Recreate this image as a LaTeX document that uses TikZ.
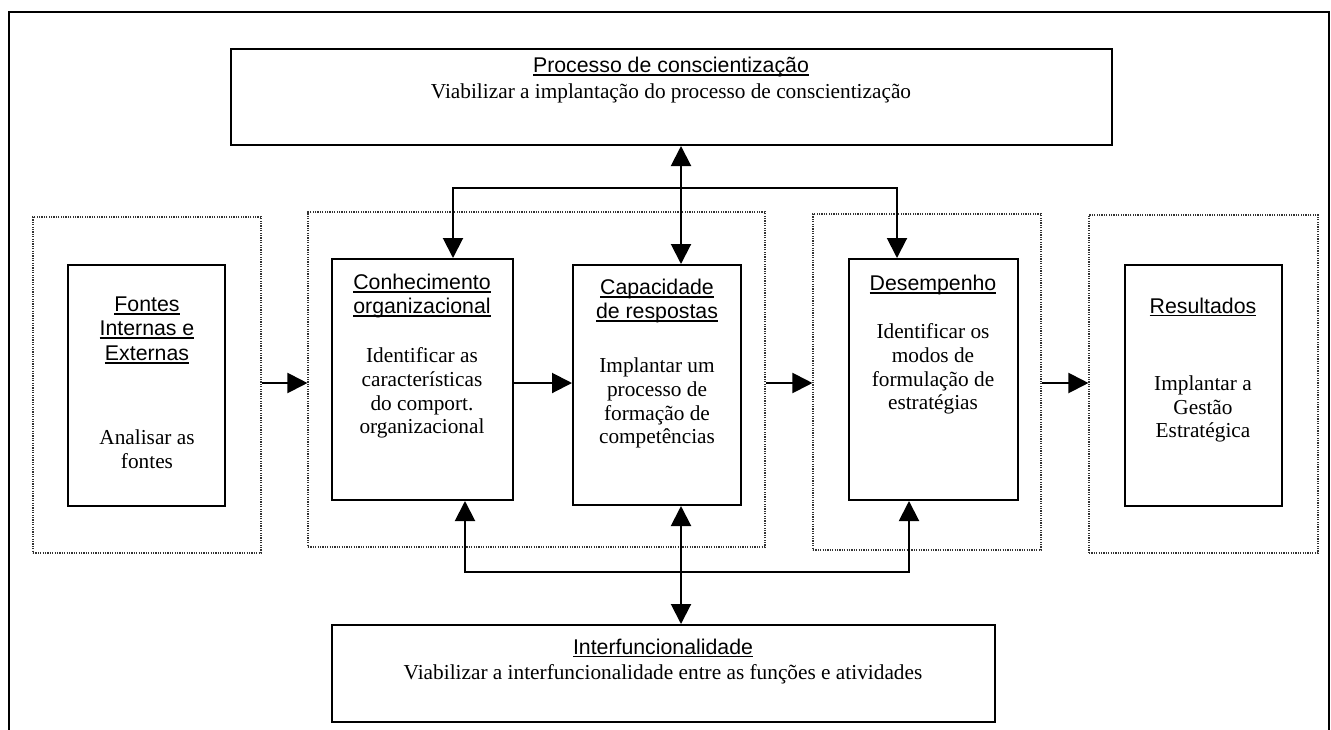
\documentclass[tikz,border=0pt]{standalone}
\usepackage{fontspec}
\setmainfont{Liberation Serif}
\newfontfamily\arialf{Liberation Sans}
\usetikzlibrary{arrows.meta}
\newcommand\ulx[1]{\setbox0\hbox{#1}\rlap{\vrule width\wd0 height -1.6pt depth 3.4pt}\box0}
\begin{document}
\begin{tikzpicture}[x=1pt,y=-1pt,
 solidbox/.style={draw,line width=2pt,inner sep=0pt},
 dotbox/.style={draw=black!80,line width=1.1pt,dash pattern=on 1.2pt off 1.2pt,inner sep=0pt},
 ttl/.style={font=\arialf\fontsize{21.3}{24.5}\selectfont,align=center,inner sep=0pt},
 txt/.style={font=\fontsize{21.3}{23.8}\selectfont,align=center,inner sep=0pt},
 conn/.style={line width=2pt},
 arr/.style={line width=2pt,-{Triangle[length=20pt,width=20pt]}},
 darr/.style={line width=2pt,{Triangle[length=20pt,width=20pt]}-{Triangle[length=20pt,width=20pt]}}]
\useasboundingbox (0,0) rectangle (1331,729);
% outer frame
\draw[line width=2pt] (9,745) -- (9,12) -- (1329,12) -- (1329,745);
% dotted groups
\node[dotbox,minimum width=228,minimum height=336] (d1) at (147,385) {};
\node[dotbox,minimum width=457,minimum height=335] (d2) at (536.5,379.5) {};
\node[dotbox,minimum width=228,minimum height=336] (d3) at (927,382) {};
\node[dotbox,minimum width=229,minimum height=338] (d4) at (1203.5,384) {};
% solid boxes
\node[solidbox,minimum width=881,minimum height=96] (p) at (671.5,97) {};
\node[solidbox,minimum width=663,minimum height=97] (i) at (663.5,673.5) {};
\node[solidbox,minimum width=157,minimum height=241] (f) at (146.5,385.5) {};
\node[solidbox,minimum width=181,minimum height=241] (c) at (422.5,379.5) {};
\node[solidbox,minimum width=168,minimum height=240] (k) at (657,385) {};
\node[solidbox,minimum width=169,minimum height=241] (e) at (933.5,379.5) {};
\node[solidbox,minimum width=157,minimum height=241] (r) at (1203.5,385.5) {};
% texts
\node[ttl] (pt) at (671,67) {\ulx{Processo de conscientização}};
\node[txt] (pb) at (671,93) {Viabilizar a implantação do processo de conscientização};
\node[ttl] (it) at (663,648) {\ulx{Interfuncionalidade}};
\node[txt] (ib) at (663,674) {Viabilizar a interfuncionalidade entre as funções e atividades};
\node[ttl] (ft) at (147,330) {\ulx{Fontes}\\\ulx{Internas e}\\\ulx{Externas}};
\node[txt] (fb) at (147,449) {Analisar as\\fontes};
\node[ttl] (ct) at (422,296) {\ulx{Conhecimento}\\\ulx{organizacional}};
\node[txt] (cb) at (422,393) {Identificar as\\características\\do comport.\\organizacional};
\node[ttl] (kt) at (657,301) {\ulx{Capacidade}\\\ulx{de respostas}};
\node[txt] (kb) at (657,403) {Implantar um\\processo de\\formação de\\competências};
\node[ttl] (et) at (933,285) {\ulx{Desempenho}};
\node[txt] (eb) at (933,369) {Identificar os\\modos de\\formulação de\\estratégias};
\node[ttl] (rt) at (1203,307) {\ulx{Resultados}};
\node[txt] (rb) at (1203,409) {Implantar a\\Gestão\\Estratégica};
% horizontal flow
\draw[arr] (d1.east |- 0,383) -- (d2.west |- 0,383);
\draw[arr] (c.east |- 0,383) -- (k.west |- 0,383);
\draw[arr] (d2.east |- 0,383) -- (d3.west |- 0,383);
\draw[arr] (d3.east |- 0,383) -- (d4.west |- 0,383);
% top links
\coordinate (tl) at (453,188);
\coordinate (tr) at (897,188);
\draw[darr] (p.south -| 681,0) -- (k.north -| 681,0);
\draw[darr] (c.north -| tl) -- (tl) -- (tr) -- (tr |- e.north);
% bottom links
\coordinate (bl) at (465,572);
\coordinate (br) at (909,572);
\draw[darr] (i.north -| 681,0) -- (k.south -| 681,0);
\draw[darr] (c.south -| bl) -- (bl) -- (br) -- (br |- e.south);
\end{tikzpicture}
\end{document}
